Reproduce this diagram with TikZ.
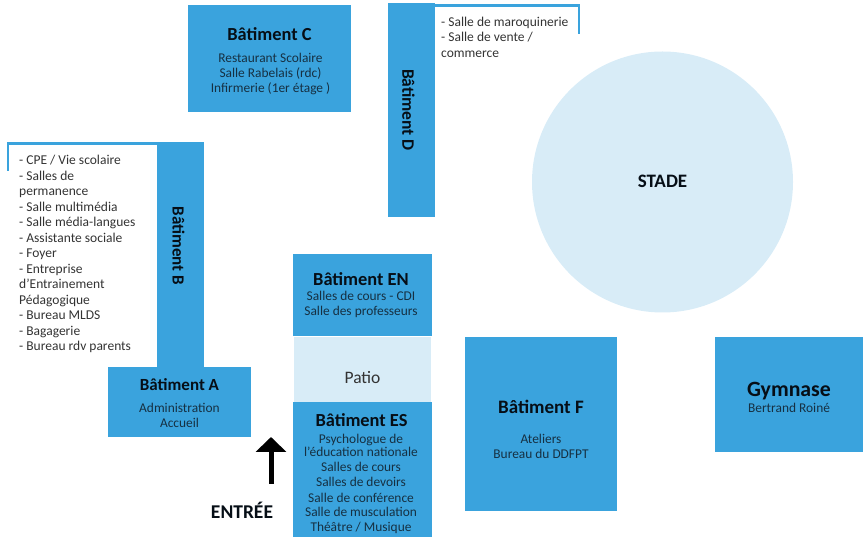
\documentclass[tikz,border=0pt]{standalone}
\usepackage{fontspec}
\setmainfont{Carlito}
\usetikzlibrary{arrows.meta,positioning}
\definecolor{colorB}{RGB}{58,163,221}
\definecolor{colorL}{RGB}{216,236,247}
\definecolor{colorT}{RGB}{22,48,66}
\definecolor{colorK}{RGB}{6,14,22}
\definecolor{colorY}{RGB}{51,51,51}
\tikzstyle{bat}=[fill=colorB, inner sep=0pt, anchor=north west]
\tikzstyle{ttl}=[font=\fontsize{18.4}{20}\selectfont\bfseries, text=colorK, inner sep=0pt]
\tikzstyle{sub}=[font=\fontsize{13.4}{15.4}\selectfont, text=colorT, align=center, inner sep=0pt]
\tikzstyle{lst}=[font=\fontsize{13.5}{15.5}\selectfont, text=colorY, align=left, inner sep=0pt, anchor=north west]
\tikzstyle{brk}=[draw=colorB, line width=2.4pt]
\begin{document}
\begin{tikzpicture}[x=1pt,y=-1pt]
\useasboundingbox (0,0) rectangle (863,537);

% stade
\node (stade) [circle, fill=colorL, minimum size=261pt, inner sep=0pt] at (662.5,182) {};
\node (stadeT) [ttl, font=\fontsize{19}{20}\selectfont\bfseries] at (662.5,181) {STADE};

% batiment C
\node (batC) [bat, minimum width=163pt, minimum height=107pt] at (188,5) {};
\node (batCT) [ttl] at (269.5,34) {Bâtiment C};
\node (batCS) [sub] at (270.5,74) {Restaurant Scolaire\\Salle Rabelais (rdc)\\Infirmerie (1er étage )};

% batiment D
\node (batD) [bat, minimum width=47pt, minimum height=214pt] at (388,3) {};
\node (batDT) [ttl, font=\fontsize{17.5}{20}\selectfont\bfseries, rotate=-90] at (408.5,110) {Bâtiment D};
\node (listD) [lst] at (441,16.5) {- Salle de maroquinerie\\- Salle de vente /\\commerce};
\coordinate (brkD) at (579,34);
\draw [brk] (batD.north east |- 0,5.5) -- (579,5.5) -- (brkD);

% batiment B
\node (batB) [bat, minimum width=47pt, minimum height=225pt] at (157,142) {};
\node (batBT) [ttl, font=\fontsize{17}{20}\selectfont\bfseries, rotate=-90] at (178.5,246) {Bâtiment B};
\node (listB) [lst] at (19,155) {- CPE / Vie scolaire\\- Salles de\\permanence\\- Salle multimédia\\- Salle média-langues\\- Assistante sociale\\- Foyer\\- Entreprise\\d’Entrainement\\Pédagogique\\- Bureau MLDS\\- Bagagerie\\- Bureau rdv parents};
\coordinate (brkB) at (8,171);
\draw [brk] (brkB) -- (8,143.5) -- (batB.north west |- 0,143.5);

% batiment A
\node (batA) [bat, minimum width=143pt, minimum height=70pt] at (108,367) {};
\node (batAT) [ttl, font=\fontsize{17}{20}\selectfont\bfseries] at (179.5,384.5) {Bâtiment A};
\node (batAS) [sub] at (179.5,415.5) {Administration\\Accueil};

% batiment EN
\node (batEN) [bat, minimum width=139pt, minimum height=82pt] at (293,254) {};
\node (batENT) [ttl] at (361,279) {Bâtiment EN};
\node (batENS) [sub] at (361,304.5) {Salles de cours - CDI\\Salle des professeurs};

% patio
\node (patio) [bat, fill=colorL, minimum width=137pt, minimum height=65pt] at (294,337) {};
\node (patioT) [font=\fontsize{17.5}{20}\selectfont, text=colorY, inner sep=0pt] at (362.5,377.5) {Patio};

% batiment ES
\node (batES) [bat, minimum width=139pt, minimum height=135pt] at (293,402) {};
\node (batEST) [ttl] at (361.5,420) {Bâtiment ES};
\node (batESS) [sub, font=\fontsize{13.4}{14.6}\selectfont] at (361,483.5) {Psychologue de\\[-1.6pt]l'éducation nationale\\[.4pt]Salles de cours\\[.4pt]Salles de devoirs\\[1.4pt]Salle de conférence\\[-.6pt]Salle de musculation\\[.4pt]Théâtre / Musique};

% batiment F
\node (batF) [bat, minimum width=152pt, minimum height=174pt] at (465,337) {};
\node (batFT) [ttl, font=\fontsize{19}{20}\selectfont\bfseries] at (541,407) {Bâtiment F};
\node (batFS) [sub] at (541,446.5) {Ateliers\\Bureau du DDFPT};

% gymnase
\node (gym) [bat, minimum width=148pt, minimum height=115pt] at (715,337) {};
\node (gymT) [ttl, font=\fontsize{21.8}{22}\selectfont\bfseries] at (789,391.5) {Gymnase};
\node (gymS) [sub] at (789,408) {Bertrand Roiné};

% entree
\node (entree) [ttl, font=\fontsize{19.5}{20}\selectfont\bfseries] at (242,510) {ENTRÉE};
\coordinate (entreeA) at (271,484);
\coordinate (entreeB) at (271,437);
\draw [-{Triangle[length=15pt,width=30pt]}, line width=5pt, black] (entreeA) -- (entreeB);

\end{tikzpicture}
\end{document}
